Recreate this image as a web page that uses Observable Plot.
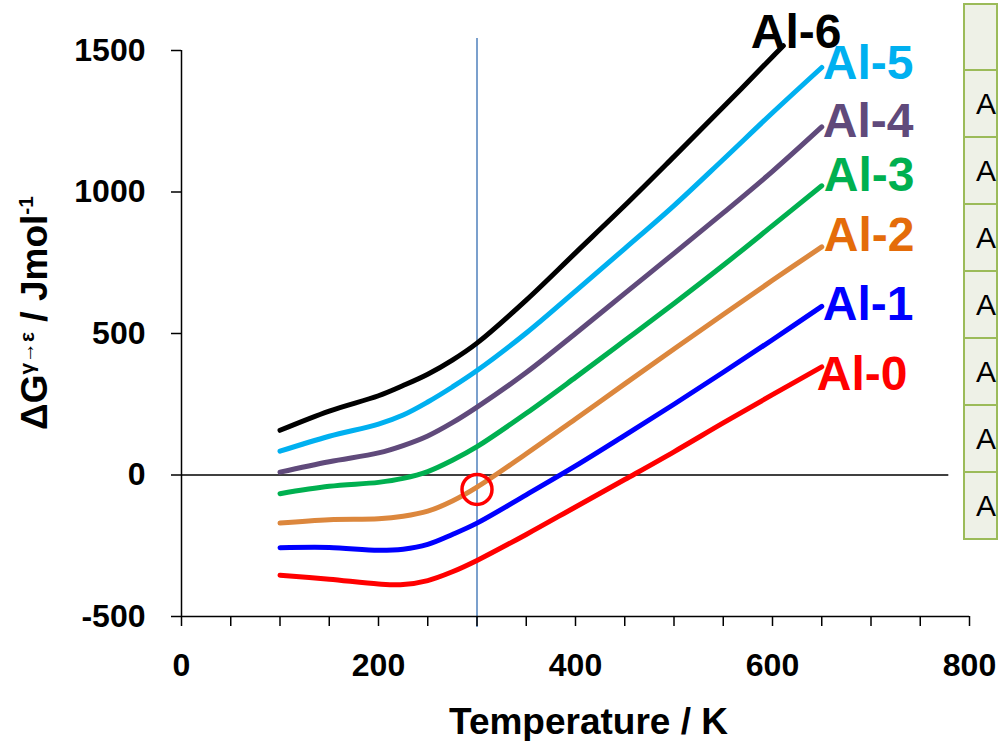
<!DOCTYPE html>
<html>
<head>
<meta charset="utf-8">
<script src="https://cdn.jsdelivr.net/npm/d3@7"></script>
<script src="https://cdn.jsdelivr.net/npm/@observablehq/plot@0.6"></script>
<style>
  html, body { margin: 0; padding: 0; background: #fff; overflow: hidden; }
  #wrap { position: relative; width: 998px; height: 741px; }
  #tbl { position: absolute; left: 963px; top: 3px; width: 35px; overflow: hidden; }
  #tbl table { border-collapse: collapse; font-family: "Liberation Sans", Arial, sans-serif; font-size: 30px; }
  #tbl td { border: 2px solid #9BBB59; background: #EEF1E7; width: 160px; height: 65px; padding: 0 0 0 11px; color: #000; white-space: nowrap; }
</style>
</head>
<body>
<div id="wrap"><div id="tbl"></div></div>
<script>
// ---- data ----
const temps = [100, 150, 200, 225, 250, 275, 300, 350, 400, 450, 500, 550, 600, 650];
const tempsAl6 = [100, 150, 200, 225, 250, 275, 300, 350, 400, 450, 500, 550, 600, 611];
const al0 = [-354, -368, -385, -387, -373, -342, -302, -210, -113, -16, 82, 184, 284, 382];
const al1 = [-257, -256, -266, -262, -245, -210, -170, -70, 32, 140, 250, 363, 478, 596];
const al2 = [-170, -158, -155, -146, -128, -92, -43, 75, 198, 322, 445, 567, 688, 806];
const al3 = [-66, -40, -26, -12, 12, 52, 100, 218, 345, 475, 606, 741, 881, 1022];
const al4 = [10, 47, 78, 104, 138, 185, 240, 362, 500, 642, 783, 926, 1073, 1230];
const al5 = [84, 137, 180, 212, 258, 311, 369, 502, 650, 800, 952, 1115, 1280, 1440];
const al6 = [158, 226, 280, 316, 356, 406, 466, 618, 785, 952, 1125, 1300, 1478, 1517];
const seriesNames = ["Al-0", "Al-1", "Al-2", "Al-3", "Al-4", "Al-5", "Al-6"];
const lineColors = ["#FF0000", "#0000FF", "#DC873D", "#00B050", "#604A7B", "#00B0F0", "#000000"];
const labelColors = ["#FF0000", "#0000FF", "#E46C0A", "#00B050", "#604A7B", "#00B0F0", "#000000"];
const labelT = [645, 651, 652, 652, 651, 651, 578];
const labelG = [353, 601, 846, 1058, 1250, 1454, 1562];
const xTicksMajor = [0, 200, 400, 600, 800];
const xTicksMinor = d3.range(0, 801, 50);
const yTicks = [-500, 0, 500, 1000, 1500];
const markerT = 300;
const markerG = -51;
const refLineT = 300;
const tableRows = ["", "A", "A", "A", "A", "A", "A", "A"];

const seriesValues = [al0, al1, al2, al3, al4, al5, al6];
const seriesTemps = [temps, temps, temps, temps, temps, temps, tempsAl6];

const FONT = "'Liberation Sans', Arial, sans-serif";

const lineMarks = seriesNames.map((name, i) =>
  Plot.line(seriesTemps[i].map((t, j) => ({T: t, G: seriesValues[i][j]})), {
    x: "T", y: "G", stroke: lineColors[i], strokeWidth: 5,
    curve: "catmull-rom", strokeLinecap: "round", strokeLinejoin: "round"
  })
);
const labelMarks = seriesNames.map((name, i) =>
  Plot.text([{T: labelT[i], G: labelG[i], name}], {
    x: "T", y: "G", text: "name", fill: labelColors[i], textAnchor: "start",
    fontSize: 48, fontWeight: "bold", fontFamily: FONT
  })
);

const chart = Plot.plot({
  width: 998,
  height: 741,
  marginLeft: 181,
  marginRight: 29,
  marginTop: 50,
  marginBottom: 125,
  x: {domain: [0, 800]},
  y: {domain: [-500, 1500]},
  style: {fontFamily: FONT, fontWeight: "bold", fontSize: "32px", color: "#000", background: "#fff", overflow: "visible"},
  marks: [
    Plot.ruleY([0], {x1: 0, x2: 779, stroke: "#000", strokeWidth: 1.5}),
    Plot.ruleX([refLineT], {y1: -539, y2: 1542, stroke: "#4F81BD", strokeWidth: 1.5}),
    Plot.ruleX([0], {y1: -500, y2: 1500, stroke: "#000", strokeWidth: 1.5}),
    Plot.ruleY([-500], {x1: 0, x2: 800, stroke: "#000", strokeWidth: 1.5}),
    Plot.axisY({ticks: yTicks, tickSize: 10, tickPadding: 26, tickFormat: d => String(d), label: null, strokeWidth: 1.5, fontSize: 32, fontWeight: "bold"}),
    Plot.axisX({ticks: xTicksMinor, tickSize: 10, tickFormat: () => "", label: null, strokeWidth: 1.5}),
    Plot.axisX({ticks: xTicksMajor, tickSize: 0, tickPadding: 37, tickFormat: d => String(d), label: null, fontSize: 32, fontWeight: "bold"}),
    ...lineMarks,
    Plot.dot([{T: markerT, G: markerG}], {x: "T", y: "G", r: 15, stroke: "#FF0000", strokeWidth: 3.5, fill: "none"}),
    ...labelMarks,
    Plot.text(["Temperature / K"], {frameAnchor: "bottom", lineAnchor: "top", text: d => d, dy: 91, dx: 13, fontSize: 37, fontWeight: "bold"})
  ]
});

// y-axis title with superscripts
const svg = d3.select(chart);
const yt = svg.append("text")
  .attr("transform", "translate(47,313) rotate(-90)")
  .attr("text-anchor", "middle")
  .attr("font-family", FONT)
  .attr("font-weight", "bold")
  .attr("font-size", 37)
  .attr("fill", "#000");
yt.append("tspan").text("ΔG");
yt.append("tspan").attr("font-size", 21).attr("dy", -13).text("γ→ε");
yt.append("tspan").attr("dy", 13).text(" / Jmol");
yt.append("tspan").attr("font-size", 21).attr("dy", -14).text("-1");

document.getElementById("wrap").prepend(chart);

// side table (cut off at the window edge)
const tbl = d3.select("#tbl").append("table");
tbl.selectAll("tr").data(tableRows).join("tr")
  .append("td").text(d => d)
  .style("height", (d, i) => i === 0 ? "64px" : "65px");
</script>
</body>
</html>
